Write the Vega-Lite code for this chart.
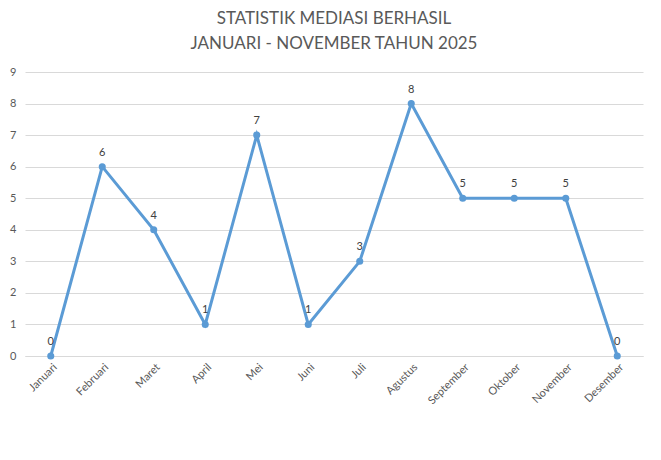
{
  "$schema": "https://vega.github.io/schema/vega-lite/v6.json",
  "title": {
    "text": ["STATISTIK MEDIASI BERHASIL", "JANUARI - NOVEMBER TAHUN 2025"],
    "font": "Lato",
    "fontSize": 17,
    "fontWeight": "normal",
    "lineHeight": 25,
    "color": "#595959",
    "anchor": "middle",
    "offset": 13
  },
  "autosize": "none",
  "padding": {"left": 25, "top": 72, "right": 18, "bottom": 104},
  "width": 618,
  "height": 284,
  "background": "white",
  "data": {
    "values": [
      {"bulan": "Januari", "jumlah": 0},
      {"bulan": "Februari", "jumlah": 6},
      {"bulan": "Maret", "jumlah": 4},
      {"bulan": "April", "jumlah": 1},
      {"bulan": "Mei", "jumlah": 7},
      {"bulan": "Juni", "jumlah": 1},
      {"bulan": "Juli", "jumlah": 3},
      {"bulan": "Agustus", "jumlah": 8},
      {"bulan": "September", "jumlah": 5},
      {"bulan": "Oktober", "jumlah": 5},
      {"bulan": "November", "jumlah": 5},
      {"bulan": "Desember", "jumlah": 0}
    ]
  },
  "encoding": {
    "x": {
      "field": "bulan",
      "type": "ordinal",
      "sort": null,
      "scale": {"type": "point", "padding": 0.5},
      "title": null,
      "axis": {
        "labelAngle": -45,
        "labelFont": "Lato",
        "labelFontSize": 11,
        "labelColor": "#595959",
        "labelPadding": 5,
        "ticks": false,
        "domainColor": "#d9d9d9",
        "grid": false
      }
    },
    "y": {
      "field": "jumlah",
      "type": "quantitative",
      "scale": {"domain": [0, 9]},
      "title": null,
      "axis": {
        "values": [0, 1, 2, 3, 4, 5, 6, 7, 8, 9],
        "labelFont": "Lato",
        "labelFontSize": 11,
        "labelColor": "#595959",
        "labelPadding": 9,
        "ticks": false,
        "domain": false,
        "gridColor": "#d9d9d9"
      }
    }
  },
  "layer": [
    {
      "mark": {
        "type": "line",
        "color": "#5B9BD5",
        "strokeWidth": 3,
        "point": {"filled": true, "size": 50, "color": "#5B9BD5"}
      }
    },
    {
      "mark": {
        "type": "text",
        "font": "Lato",
        "fontSize": 11,
        "color": "#404040",
        "baseline": "bottom",
        "dy": -9
      },
      "encoding": {"text": {"field": "jumlah", "type": "quantitative"}}
    }
  ],
  "config": {"view": {"stroke": null}}
}
